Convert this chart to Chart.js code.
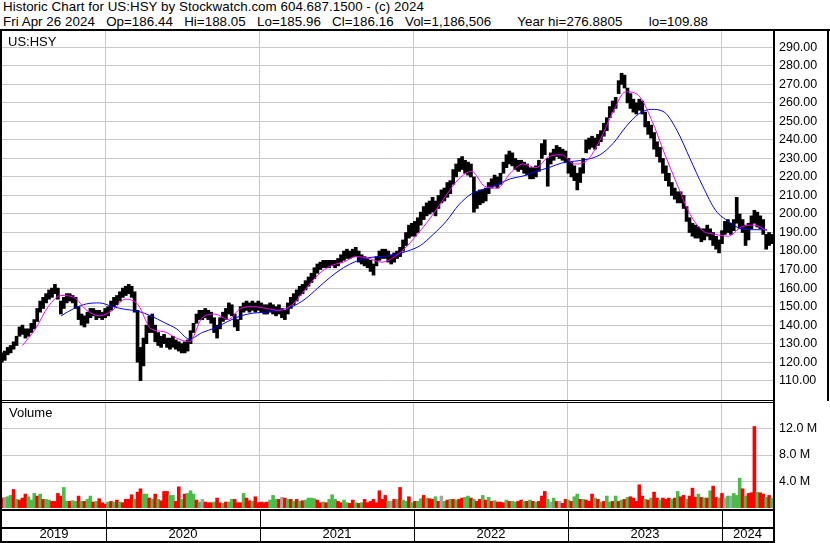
<!DOCTYPE html>
<html>
<head>
<meta charset="utf-8">
<script src="https://cdn.jsdelivr.net/npm/chart.js@4/dist/chart.umd.min.js"></script>
<style>
  body { margin: 0; background: #fff; width: 830px; height: 543px; overflow: hidden; position: relative; font-family: "Liberation Sans", Arial, sans-serif; }
  .txt { position: absolute; font-size: 13px; line-height: 15px; white-space: pre; color: #000; }
  .head { font-size: 13.33px; letter-spacing: 0.05px; }
  .ln { position: absolute; background: #000; }
  canvas { position: absolute; left: 0; }
</style>
</head>
<body>
<div class="txt head" style="left:3px;top:-1px">Historic Chart for US:HSY by Stockwatch.com 604.687.1500 - (c) 2024</div>
<div class="txt head" style="left:3px;top:14px">Fri Apr 26 2024   Op=186.44   Hi=188.05   Lo=185.96   Cl=186.16   Vol=1,186,506       Year hi=276.8805       lo=109.88</div>

<canvas id="price" width="830" height="369" style="top:31px"></canvas>
<canvas id="vol" width="830" height="141" style="top:402px"></canvas>

<div class="txt" style="left:8px;top:34px">US:HSY</div>
<div class="txt" style="left:9px;top:405px">Volume</div>

<!-- frame -->
<div class="ln" style="left:0;top:29px;width:830px;height:2px"></div>
<div class="ln" style="left:0;top:29px;width:2px;height:514px"></div>
<div class="ln" style="left:773px;top:29px;width:2px;height:514px"></div>
<div class="ln" style="left:827px;top:29px;width:2px;height:372px"></div>
<div class="ln" style="left:0;top:400px;width:775px;height:1px"></div>
<div class="ln" style="left:0;top:402px;width:775px;height:1px"></div>

<script>
// weekly price range (low / high), one pair per week from the week of 29 Apr 2019
const weekLow = [
  120,121,124,125,127,129,134,135,133,134,
  136,138,142,147,149,152,154,155,157,154,
  146,149,152,153,152,149,143,140,139,141,
  144,145,143,144,143,144,145,148,150,151,
  153,155,156,157,155,147,120,110,118,130,
  136,136,131,129,128,130,128,127,128,127,
  126,125,125,126,130,136,141,143,143,144,
  143,141,136,133,138,142,143,146,145,139,
  137,143,147,148,147,148,147,148,147,146,
  146,147,146,145,146,144,143,146,149,151,
  153,156,157,159,161,163,165,168,170,171,
  171,171,172,171,172,174,175,176,176,177,
  177,174,173,172,171,169,167,172,175,176,
  176,174,173,174,176,177,180,183,187,188,
  188,190,194,197,199,200,201,199,203,206,
  207,209,211,216,220,223,224,222,221,220,
  201,203,205,206,207,211,214,215,214,216,
  222,225,227,226,224,223,224,222,221,219,
  219,220,223,230,232,215,227,229,231,230,
  229,228,222,220,218,213,217,222,233,235,
  236,235,237,239,242,245,252,255,257,265,
  270,268,260,257,255,254,256,254,247,243,
  241,235,231,228,222,218,215,210,208,206,
  206,203,196,190,188,187,187,185,186,188,
  186,183,181,179,184,189,190,189,191,195,
  192,190,183,186,192,195,193,192,189,181,183,184
];
const weekHigh = [
  125,126,128,129,131,134,139,140,138,138,
  141,143,149,153,155,157,159,160,162,160,
  153,155,157,157,156,155,150,146,145,147,
  149,149,148,148,147,149,150,153,155,156,
  158,160,161,162,161,158,148,128,133,140,
  145,146,140,136,134,135,133,133,134,132,
  131,130,131,132,137,141,146,148,148,149,
  148,147,144,140,144,147,149,152,151,146,
  143,150,152,153,152,153,152,153,152,151,
  151,152,151,150,151,149,148,152,155,157,
  159,161,162,164,166,168,171,173,174,175,
  175,175,175,175,176,178,180,181,180,181,
  182,180,178,177,176,175,173,177,180,181,
  181,180,178,179,180,182,186,190,194,195,
  196,198,201,204,206,207,209,207,210,213,
  214,217,218,224,227,230,231,229,228,227,
  220,212,213,213,214,217,219,221,220,222,
  228,232,234,233,230,229,229,228,227,225,
  225,226,229,238,240,230,233,235,237,236,
  235,234,230,228,226,222,225,230,240,241,
  242,241,243,245,249,252,258,261,263,272,
  276,275,268,265,262,260,262,261,255,250,
  248,244,239,236,230,226,222,217,214,212,
  212,210,204,198,195,194,193,192,192,194,
  192,190,188,186,191,196,197,195,197,209,
  200,197,194,195,199,202,201,199,197,189,190,189
];

// weekly volume (millions) and bar colour: g = up, r = down, n = unchanged
const weekVolume = [
  1.5,1.6,1.7,1.9,2.8,1.3,1.2,1.5,2.1,1.7,
  1.2,2.2,1.8,2.1,1.3,1.3,1.2,1.0,1.0,2.2,
  1.8,3.1,1.0,1.0,1.1,1.0,1.8,1.0,1.0,1.3,
  1.8,0.9,1.0,1.4,0.8,0.6,0.9,1.0,0.9,1.2,
  0.9,0.8,1.3,1.3,2.0,1.3,2.4,2.9,2.1,2.1,
  1.5,1.3,2.1,1.3,1.1,2.5,2.5,1.9,1.9,1.0,
  3.2,1.3,2.1,2.2,2.6,2.1,1.2,0.9,1.3,0.9,
  0.8,0.8,0.9,1.5,0.8,0.7,0.9,0.9,1.3,1.3,
  0.8,0.8,2.2,1.5,1.1,1.0,1.7,0.8,0.9,0.8,
  0.9,1.2,1.9,1.3,1.3,1.6,1.5,1.3,1.3,1.0,
  1.3,1.0,1.1,1.2,1.5,1.5,1.4,1.2,0.8,0.9,
  0.8,1.3,2.0,1.3,1.0,0.8,1.2,0.8,0.7,1.2,
  0.8,0.7,0.8,1.3,0.8,1.0,1.3,0.8,2.6,1.3,
  1.9,1.0,1.0,1.3,1.3,3.1,1.2,1.0,1.7,0.8,
  1.0,1.0,1.4,1.9,1.5,1.4,1.3,1.7,1.0,1.8,
  1.0,1.2,1.3,1.3,1.2,1.3,1.5,1.6,1.8,1.5,
  1.3,1.0,1.3,1.9,1.2,1.6,1.0,1.1,0.9,0.9,
  0.8,1.2,1.0,1.0,0.9,1.0,1.2,1.0,1.0,1.2,
  1.0,0.9,1.0,1.8,2.5,1.3,0.9,1.5,1.0,1.0,
  0.7,1.3,1.2,1.0,1.7,2.1,1.3,1.3,1.2,1.0,
  2.1,1.5,1.3,0.9,1.0,1.8,0.9,1.0,1.8,1.0,
  1.2,1.3,1.6,1.7,1.5,1.0,3.5,1.8,1.3,1.2,
  1.5,2.4,1.5,1.2,1.5,1.3,1.5,1.3,1.5,2.5,
  1.7,1.9,1.3,1.8,3.0,1.6,2.1,1.6,1.5,1.5,
  2.6,3.3,1.6,1.5,2.2,1.5,1.8,1.8,2.2,1.9,
  4.5,2.9,1.8,2.2,2.3,12.3,2.4,2.3,2.1,1.6,1.9,1.5
];
const weekDir = (
  'rnggrgrrrg' + 'ggrgrggrrr' + 'rggrggrgrg' + 'grgrrrgrgr' + 'grrrrgrrgg' +
  'rgrgrrrggr' + 'rgrgggrgnr' + 'rrgrrgrggr' + 'rrgrrgrrrr' + 'rgggrnrgrg' +
  'rgrggggrrg' + 'rgggrrggrr' + 'grgrrrrrrr' + 'rgnrgrggrg' + 'rggrgrrgrn' +
  'grgrgrrggr' + 'grrgrgrgrr' + 'rgrggrrgrg' + 'rgrrrgngrn' + 'rrgrggrgrr' +
  'rgrgrggrgr' + 'grgrrrrrgr' + 'grrgrrrgrg' + 'rrgrrrgrgr' + 'grrgrngngg' +
  'grgrrrgrrgrg'
).split('');

// moving averages read monthly, Jun 2019 .. Apr 2024
const maMonths = [
  '2019-06','2019-07','2019-08','2019-09','2019-10','2019-11','2019-12',
  '2020-01','2020-02','2020-03','2020-04','2020-05','2020-06','2020-07','2020-08','2020-09','2020-10','2020-11','2020-12',
  '2021-01','2021-02','2021-03','2021-04','2021-05','2021-06','2021-07','2021-08','2021-09','2021-10','2021-11','2021-12',
  '2022-01','2022-02','2022-03','2022-04','2022-05','2022-06','2022-07','2022-08','2022-09','2022-10','2022-11','2022-12',
  '2023-01','2023-02','2023-03','2023-04','2023-05','2023-06','2023-07','2023-08','2023-09','2023-10','2023-11','2023-12',
  '2024-01','2024-02','2024-03','2024-04'
];
const maShort = [
  129,138,150,156,155,148,145,
  148,154,151,138,136.5,133,131,144,146,143,149,150,
  149,148,151,159,167,172,174,177,176,174,177,183,
  191,200,210,219,223,215,214,222,227,225,231,232,
  227,229,240,255,266,264,251,233,216,200,191,189,
  188,193,194,191
];
const maLong = [
  null,null,null,145,149,151.5,152,
  150,148.5,147.5,145,141.5,138,132.5,136,138.5,142,145,146.5,
  147,148,150,154,160,166,171,174.5,176.5,177,178,180,
  183,189,196,205,211,213.5,216,219,220.5,223,225,227.5,
  228.5,229.5,232,238,247,254,256.5,255,245,230,215,202,
  196,192,191.5,191.5
];

const priceTicks = [110,120,130,140,150,160,170,180,190,200,210,220,230,240,250,260,270,280,290];
const volumeTicks = [4, 8, 12];
const yearBounds = [2020, 2021, 2022, 2023, 2024];
const yearLabels = ['2019', '2020', '2021', '2022', '2023', '2024'];

const X_MIN = 2019.3247, X_MAX = 2024.3312;
const P_MIN = 99.58, P_MAX = 298.8;
const V_MAX = 16;
const FONT = 'Liberation Sans';
const GRID = '#c8c8c8';
const DIR_COLOURS = { g: '#4cbb4c', r: '#ff0000', n: '#a6a6a6' };

function decYear(t) {
  const d = new Date(t);
  const y = d.getUTCFullYear();
  const a = Date.UTC(y, 0, 1), b = Date.UTC(y + 1, 0, 1);
  return y + (t - a) / (b - a);
}

const firstWeek = Date.UTC(2019, 3, 29);
const weekX = weekLow.map((_, i) => decYear(firstWeek + i * 7 * 864e5));
const monthX = maMonths.map(m => {
  const [y, mo] = m.split('-').map(Number);
  return y + (mo - 0.5) / 12;
});
const toPts = vals => vals.map((v, i) => ({ x: monthX[i], y: v })).filter(p => p.y !== null);

const yearMids = yearLabels.map((_, i) => {
  const a = Math.max(2019 + i, X_MIN), b = Math.min(2020 + i, X_MAX);
  return (a + b) / 2;
});

// keep the plot area exactly where the scale is fixed, no label padding
function noPad(a) {
  a.paddingTop = 0; a.paddingBottom = 0; a.paddingLeft = 0; a.paddingRight = 0;
}

function yearGrid() {
  return {
    type: 'linear', min: X_MIN, max: X_MAX, offset: false,
    grid: { color: GRID, drawTicks: false, offset: false },
    border: { display: false },
    ticks: { display: false },
    afterBuildTicks: a => { a.ticks = yearBounds.map(v => ({ value: v })); },
    afterFit: a => { a.height = 0; noPad(a); }
  };
}

new Chart(document.getElementById('price'), {
  type: 'bar',
  data: {
    datasets: [
      {
        type: 'line', data: toPts(maShort), borderColor: '#ff00ff', borderWidth: 1,
        pointRadius: 0, cubicInterpolationMode: 'monotone', order: 0
      },
      {
        type: 'line', data: toPts(maLong), borderColor: '#0000ff', borderWidth: 1,
        pointRadius: 0, cubicInterpolationMode: 'monotone', order: 1
      },
      {
        type: 'bar', data: weekX.map((x, i) => ({ x: x, y: [weekLow[i], weekHigh[i]] })),
        backgroundColor: '#000', barThickness: 3, order: 2
      }
    ]
  },
  options: {
    responsive: false, animation: false, events: [],
    layout: { padding: { left: 2, right: 0, top: 0, bottom: 0 } },
    plugins: { legend: { display: false }, tooltip: { enabled: false } },
    scales: {
      x: yearGrid(),
      y: {
        position: 'right', min: P_MIN, max: P_MAX,
        grid: { color: GRID, drawTicks: false },
        border: { display: false },
        ticks: { padding: 6, color: '#000', font: { family: FONT, size: 12.5 }, callback: v => v.toFixed(2) },
        afterBuildTicks: a => { a.ticks = priceTicks.map(v => ({ value: v })); },
        afterFit: a => { a.width = 57; noPad(a); }
      }
    }
  }
});

// black rules of the two rows under the volume panel
const bottomRows = {
  id: 'bottomRows',
  afterDraw(chart) {
    const ctx = chart.ctx;
    const xs = chart.scales.x;
    ctx.save();
    ctx.fillStyle = '#000';
    ctx.fillRect(0, 107, 775, 2);
    ctx.fillRect(0, 125, 775, 2);
    ctx.fillRect(0, 139, 775, 2);
    yearBounds.forEach(v => {
      const px = Math.round(xs.getPixelForValue(v));
      ctx.fillRect(px, 107, 1, 33);
    });
    ctx.restore();
  }
};

new Chart(document.getElementById('vol'), {
  type: 'bar',
  data: {
    datasets: [{
      data: weekX.map((x, i) => ({ x: x, y: weekVolume[i] })),
      backgroundColor: weekDir.map(c => DIR_COLOURS[c]),
      barPercentage: 1, categoryPercentage: 1
    }]
  },
  options: {
    responsive: false, animation: false, events: [],
    layout: { padding: { left: 2, right: 0, top: 0, bottom: 0 } },
    plugins: { legend: { display: false }, tooltip: { enabled: false } },
    scales: {
      x: yearGrid(),
      years: {
        type: 'linear', axis: 'x', position: 'bottom', min: X_MIN, max: X_MAX, offset: false,
        grid: { display: false, drawTicks: false, offset: false },
        border: { display: false },
        ticks: {
          padding: 19, color: '#000', font: { family: FONT, size: 13 },
          maxRotation: 0, autoSkip: false,
          callback: (v, i) => yearLabels[i]
        },
        afterBuildTicks: a => { a.ticks = yearMids.map(v => ({ value: v })); },
        afterFit: a => { a.height = 35; noPad(a); }
      },
      y: {
        position: 'right', min: 0, max: V_MAX,
        grid: { color: GRID, drawTicks: false },
        border: { display: false },
        ticks: { padding: 6, color: '#000', font: { family: FONT, size: 12.5 }, callback: v => v.toFixed(1) + ' M' },
        afterBuildTicks: a => { a.ticks = volumeTicks.map(v => ({ value: v })); },
        afterFit: a => { a.width = 57; noPad(a); }
      }
    }
  },
  plugins: [bottomRows]
});
</script>
</body>
</html>
